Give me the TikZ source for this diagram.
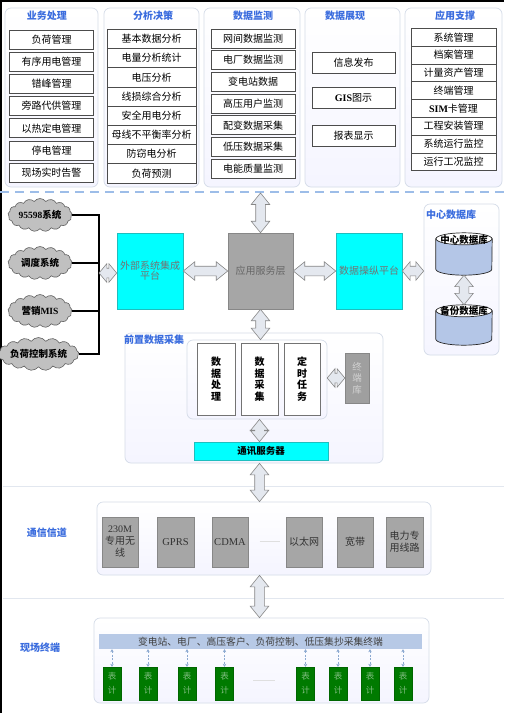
\documentclass[tikz,border=0pt]{standalone}
\usepackage{fontspec}
\setmainfont{Noto Sans CJK SC}
\newfontfamily\lat{Liberation Serif}
\usetikzlibrary{shapes.arrows,shapes.geometric,shapes.symbols,calc,arrows.meta}
\definecolor{titleblue}{RGB}{58,108,222}
\definecolor{panelline}{RGB}{213,220,232}
\definecolor{cyanfill}{RGB}{0,255,255}
\definecolor{cyanline}{RGB}{30,190,190}
\definecolor{grayfill}{RGB}{166,166,166}
\definecolor{grayline}{RGB}{135,135,135}
\definecolor{dbblue}{RGB}{180,198,231}
\definecolor{barblue}{RGB}{183,201,230}
\definecolor{greenfill}{RGB}{0,122,0}
\definecolor{greentext}{RGB}{130,190,130}
\definecolor{arrowfill}{RGB}{228,232,239}
\definecolor{dashblue}{RGB}{157,189,232}
\definecolor{cloudgray}{RGB}{192,192,192}
\newcommand\fs[1]{\fontsize{#1}{#1}\selectfont}
\newcommand\harrow[3][]{%
  \path let \p1=#2, \p2=#3, \n1={veclen(\x2-\x1,\y2-\y1)}, \n2={atan2(\y2-\y1,\x2-\x1)} in
    node[hollow, minimum height=\n1, rotate=\n2, #1] at ($(\p1)!0.5!(\p2)$) {};}
% cylinder drawn around a named node #1 with ellipse half-height #2
\newcommand\cylshape[2]{%
  \draw[fill=dbblue, draw=black!85, line width=0.7pt]
    ([yshift=-#2]#1.north west) -- ([yshift=#2]#1.south west)
    arc[start angle=180, end angle=360, x radius=28pt, y radius=#2]
    -- ([yshift=-#2]#1.north east) -- cycle;
  \draw[fill=white, draw=black!85, line width=0.7pt] ([yshift=-#2]#1.north) ellipse [x radius=28pt, y radius=#2];}
\begin{document}
\begin{tikzpicture}[x=1pt,y=-1pt,
  panel/.style={draw=panelline, rounded corners=6pt, top color=white, bottom color=white!96!blue, line width=0.7pt, inner sep=0pt},
  ttl/.style={text=titleblue, font=\fs{10}\bfseries, inner sep=0pt},
  tbox/.style={draw=black!70, fill=white, line width=0.7pt, inner sep=0pt, font=\fs{10}, minimum height=19pt},
  cloudn/.style={cloud, cloud puffs=17, cloud puff arc=110, cloud ignores aspect, minimum width=64pt, minimum height=33pt, inner sep=0pt, fill=cloudgray, draw=gray!75!black, line width=0.6pt, font=\fs{9.5}\bfseries},
  bus/.style={line width=2.5pt, black},
  hollow/.style={double arrow, draw=grayline, fill=arrowfill, line width=0.6pt, inner sep=4.5pt, double arrow head extend=4.5pt, double arrow tip angle=78},
  cbox/.style={draw=cyanline, fill=cyanfill, line width=0.6pt, inner sep=1pt, align=center, text=black!55, font=\fs{10}},
  gbox/.style={draw=grayline, fill=grayfill, line width=0.6pt, inner sep=1pt, align=center},
  vbox/.style={draw=black!55, fill=white, line width=0.8pt, minimum width=37pt, minimum height=72pt, align=center, font=\fontsize{10}{11.5}\selectfont\bfseries},
  chbox/.style={gbox, minimum width=36pt, minimum height=50pt, text=black!80, font=\fontsize{10}{12}\selectfont},
  meter/.style={draw=black!60!green, fill=greenfill, minimum width=18pt, minimum height=33pt, inner sep=0pt, align=center, text=greentext, font=\fontsize{8.5}{14}\selectfont},
  dashar/.style={{Stealth[length=3pt,width=3.5pt]}-{Stealth[length=3pt,width=3.5pt]}, dashed, dash pattern=on 2pt off 1.5pt, draw=dashblue!90!black, line width=0.8pt},
  cylbox/.style={minimum width=56pt, inner sep=0pt}
]
\useasboundingbox (0,0) rectangle (504,713);
\fill[white] (0,0) rectangle (504,713);
\draw[black, line width=1.5pt] (0.75,713) -- (0.75,0.75) -- (504,0.75);

% ---------- top panels ----------
\node[panel, minimum width=93pt, minimum height=179pt] (p1) at (51.5,97.5) {};
\node[panel, minimum width=95pt, minimum height=179pt] (p2) at (151.5,97.5) {};
\node[panel, minimum width=96pt, minimum height=179pt] (p3) at (252,97.5) {};
\node[panel, minimum width=95pt, minimum height=179pt] (p4) at (352.5,97.5) {};
\node[panel, minimum width=97pt, minimum height=179pt] (p5) at (453.5,97.5) {};
\node[ttl] (t1) at (47,16) {业务处理};
\node[ttl] (t2) at (153,16) {分析决策};
\node[ttl] (t3) at (253,16) {数据监测};
\node[ttl] (t4) at (345,16) {数据展现};
\node[ttl] (t5) at (455,16) {应用支撑};

\foreach \t [count=\i] in {负荷管理,有序用电管理,错峰管理,旁路代供管理,以热定电管理,停电管理,现场实时告警}
  \node[tbox, minimum width=84pt] (a\i) at (51.5,{39.5+22.2*(\i-1)}) {\t};
\foreach \t [count=\i] in {基本数据分析,电量分析统计,电压分析,线损综合分析,安全用电分析,母线不平衡率分析,防窃电分析,负荷预测}
  \node[tbox, minimum width=89pt, minimum height=19.2pt] (b\i) at (151.5,{38.9+19.2*(\i-1)}) {\t};
\foreach \t [count=\i] in {网间数据监测,电厂数据监测,变电站数据,高压用户监测,配变数据采集,低压数据采集,电能质量监测}
  \node[tbox, minimum width=84pt] (c\i) at (253,{38.5+21.67*(\i-1)}) {\t};
\node[tbox, minimum width=83pt, minimum height=21pt] (d1) at (353.5,62.5) {信息发布};
\node[tbox, minimum width=83pt, minimum height=21pt] (d2) at (353.5,98) {{\lat\bfseries GIS}图示};
\node[tbox, minimum width=83pt, minimum height=21pt] (d3) at (353.5,135.5) {报表显示};
\foreach \t [count=\i] in {系统管理,档案管理,计量资产管理,终端管理,{{\lat\bfseries SIM}卡管理},工程安装管理,系统运行监控,运行工况监控}
  \node[tbox, minimum width=85pt, minimum height=17.8pt] (e\i) at (453.5,{37.2+17.8*(\i-1)}) {\t};

% dashed separator
\draw[dashblue, line width=2pt, dash pattern=on 9pt off 6pt] (0,192) -- (504,192);
\coordinate (dl) at (260.5,193);

% ---------- middle ----------
\node[cloudn] (k1) at (40,215) {{\lat 95598}系统};
\node[cloudn] (k2) at (40,263) {调度系统};
\node[cloudn] (k3) at (40,311) {营销{\lat MIS}};
\node[cloudn, minimum width=67pt] (k4) at (38.5,354) {负荷控制系统};
\coordinate (busx) at (99,273);
\foreach \k in {k1,k2,k3,k4} \draw[bus] (\k.east) -- (\k.east -| busx);
\draw[bus, line cap=rect] (k1.east -| busx) -- (k4.east -| busx);

\node[cbox, minimum width=66pt, minimum height=76pt] (ext) at (150,271) {外部系统集成\\平台};
\node[gbox, minimum width=65pt, minimum height=76pt, text=black!60, font=\fs{10}] (app) at (260.5,271) {应用服务层};
\node[cbox, minimum width=66pt, minimum height=76pt] (dm) at (369,271) {数据操纵平台};

\node[panel, minimum width=75pt, minimum height=151pt] (dbp) at (461.5,279.5) {};
\node[ttl, anchor=west] (dbt) at (426,215) {中心数据库};
\node[cylbox, minimum height=42pt] (cy1) at (464,254) {};
\node[cylbox, minimum height=40pt] (cy2) at (464,325) {};
\cylshape{cy1}{6pt}
\cylshape{cy2}{6pt}
\node[font=\fs{9.5}\bfseries, inner sep=0pt] (cy1l) at (464,239.5) {中心数据库};
\node[font=\fs{9.5}\bfseries, inner sep=0pt] (cy2l) at (464,311) {备份数据库};

\harrow[double arrow tip angle=100]{(busx)}{(ext.west |- busx)}
\harrow{(ext.east)}{(app.west)}
\harrow{(app.east)}{(dm.west)}
\harrow[double arrow tip angle=100]{(dm.east)}{(dm.east -| dbp.west)}
\harrow{(dl)}{(app.north)}
\harrow{(cy1.south)}{(cy2.north)}

% front-end acquisition
\node[panel, minimum width=258pt, minimum height=130pt] (fp) at (254,398) {};
\node[ttl, anchor=west] (fpt) at (124,340) {前置数据采集};
\node[panel, minimum width=140pt, minimum height=79pt] (ip) at (257,379.5) {};
\node[vbox, minimum width=38pt] (v1) at (216,379) {数\\据\\处\\理};
\node[vbox] (v2) at (259.5,379) {数\\据\\采\\集};
\node[vbox, minimum width=36pt] (v3) at (302,379) {定\\时\\任\\务};
\node[gbox, fill=gray!75, minimum width=24pt, minimum height=50pt, text=gray!35, font=\fontsize{9.5}{11.5}\selectfont] (tk) at (357,378) {终\\端\\库};
\node[cbox, minimum width=134pt, minimum height=18pt, text=black, font=\fs{9.5}\bfseries] (comm) at (261,451) {通讯服务器};
\harrow{(app.south)}{(app.south |- ip.north)}
\harrow[double arrow tip angle=100]{(ip.east |- tk.west)}{(tk.west)}
\harrow{(v2.south |- ip.south)}{(v2.south |- comm.north)}

% separator lines
\draw[panelline!70, line width=0.8pt] (3,486) -- (504,486);
\draw[panelline!70, line width=0.8pt] (3,598) -- (504,598);

% ---------- channels ----------
\node[panel, minimum width=334pt, minimum height=73pt] (chp) at (264,538.5) {};
\node[ttl] (cht) at (47,533) {通信信道};
\node[chbox] (g1) at (120,542) {{\lat 230M}\\专用无\\线};
\node[chbox, minimum width=37pt, font=\lat\fs{10.5}] (g2) at (175.5,542) {GPRS};
\node[chbox, font=\lat\fs{10.5}] (g3) at (230,542) {CDMA};
\node[chbox] (g4) at (304,542) {以太网};
\node[chbox] (g5) at (355,542) {宽带};
\node[chbox, minimum width=37pt] (g6) at (404.5,542) {电力专\\用线路};
\node[inner sep=0pt, text=gray!25] (gdots) at (269.5,541) {\rule{20pt}{0.7pt}};
\harrow{(v2.south |- fp.south)}{(v2.south |- chp.north)}

% ---------- field terminals ----------
\node[panel, minimum width=335pt, minimum height=85pt] (fdp) at (261.5,660.5) {};
\node[ttl] (fdt) at (40,648) {现场终端};
\node[fill=barblue, minimum width=323pt, minimum height=15pt, inner sep=0pt, text=black!75, font=\fs{9.8}] (bar) at (260.5,641.5) {变电站、电厂、高压客户、负荷控制、低压集抄采集终端};
\foreach \x [count=\i] in {112,148,187,224.5,305.5,338,370,403} {
  \node[meter] (m\i) at (\x,683.5) {表\\计};
  \draw[dashar] (m\i.north |- bar.south) -- (m\i.north);
}
\node[inner sep=0pt, text=gray!25] (mdots) at (264,680) {\rule{22pt}{0.7pt}};
\harrow{(v2.south |- chp.south)}{(v2.south |- fdp.north)}
\end{tikzpicture}
\end{document}
